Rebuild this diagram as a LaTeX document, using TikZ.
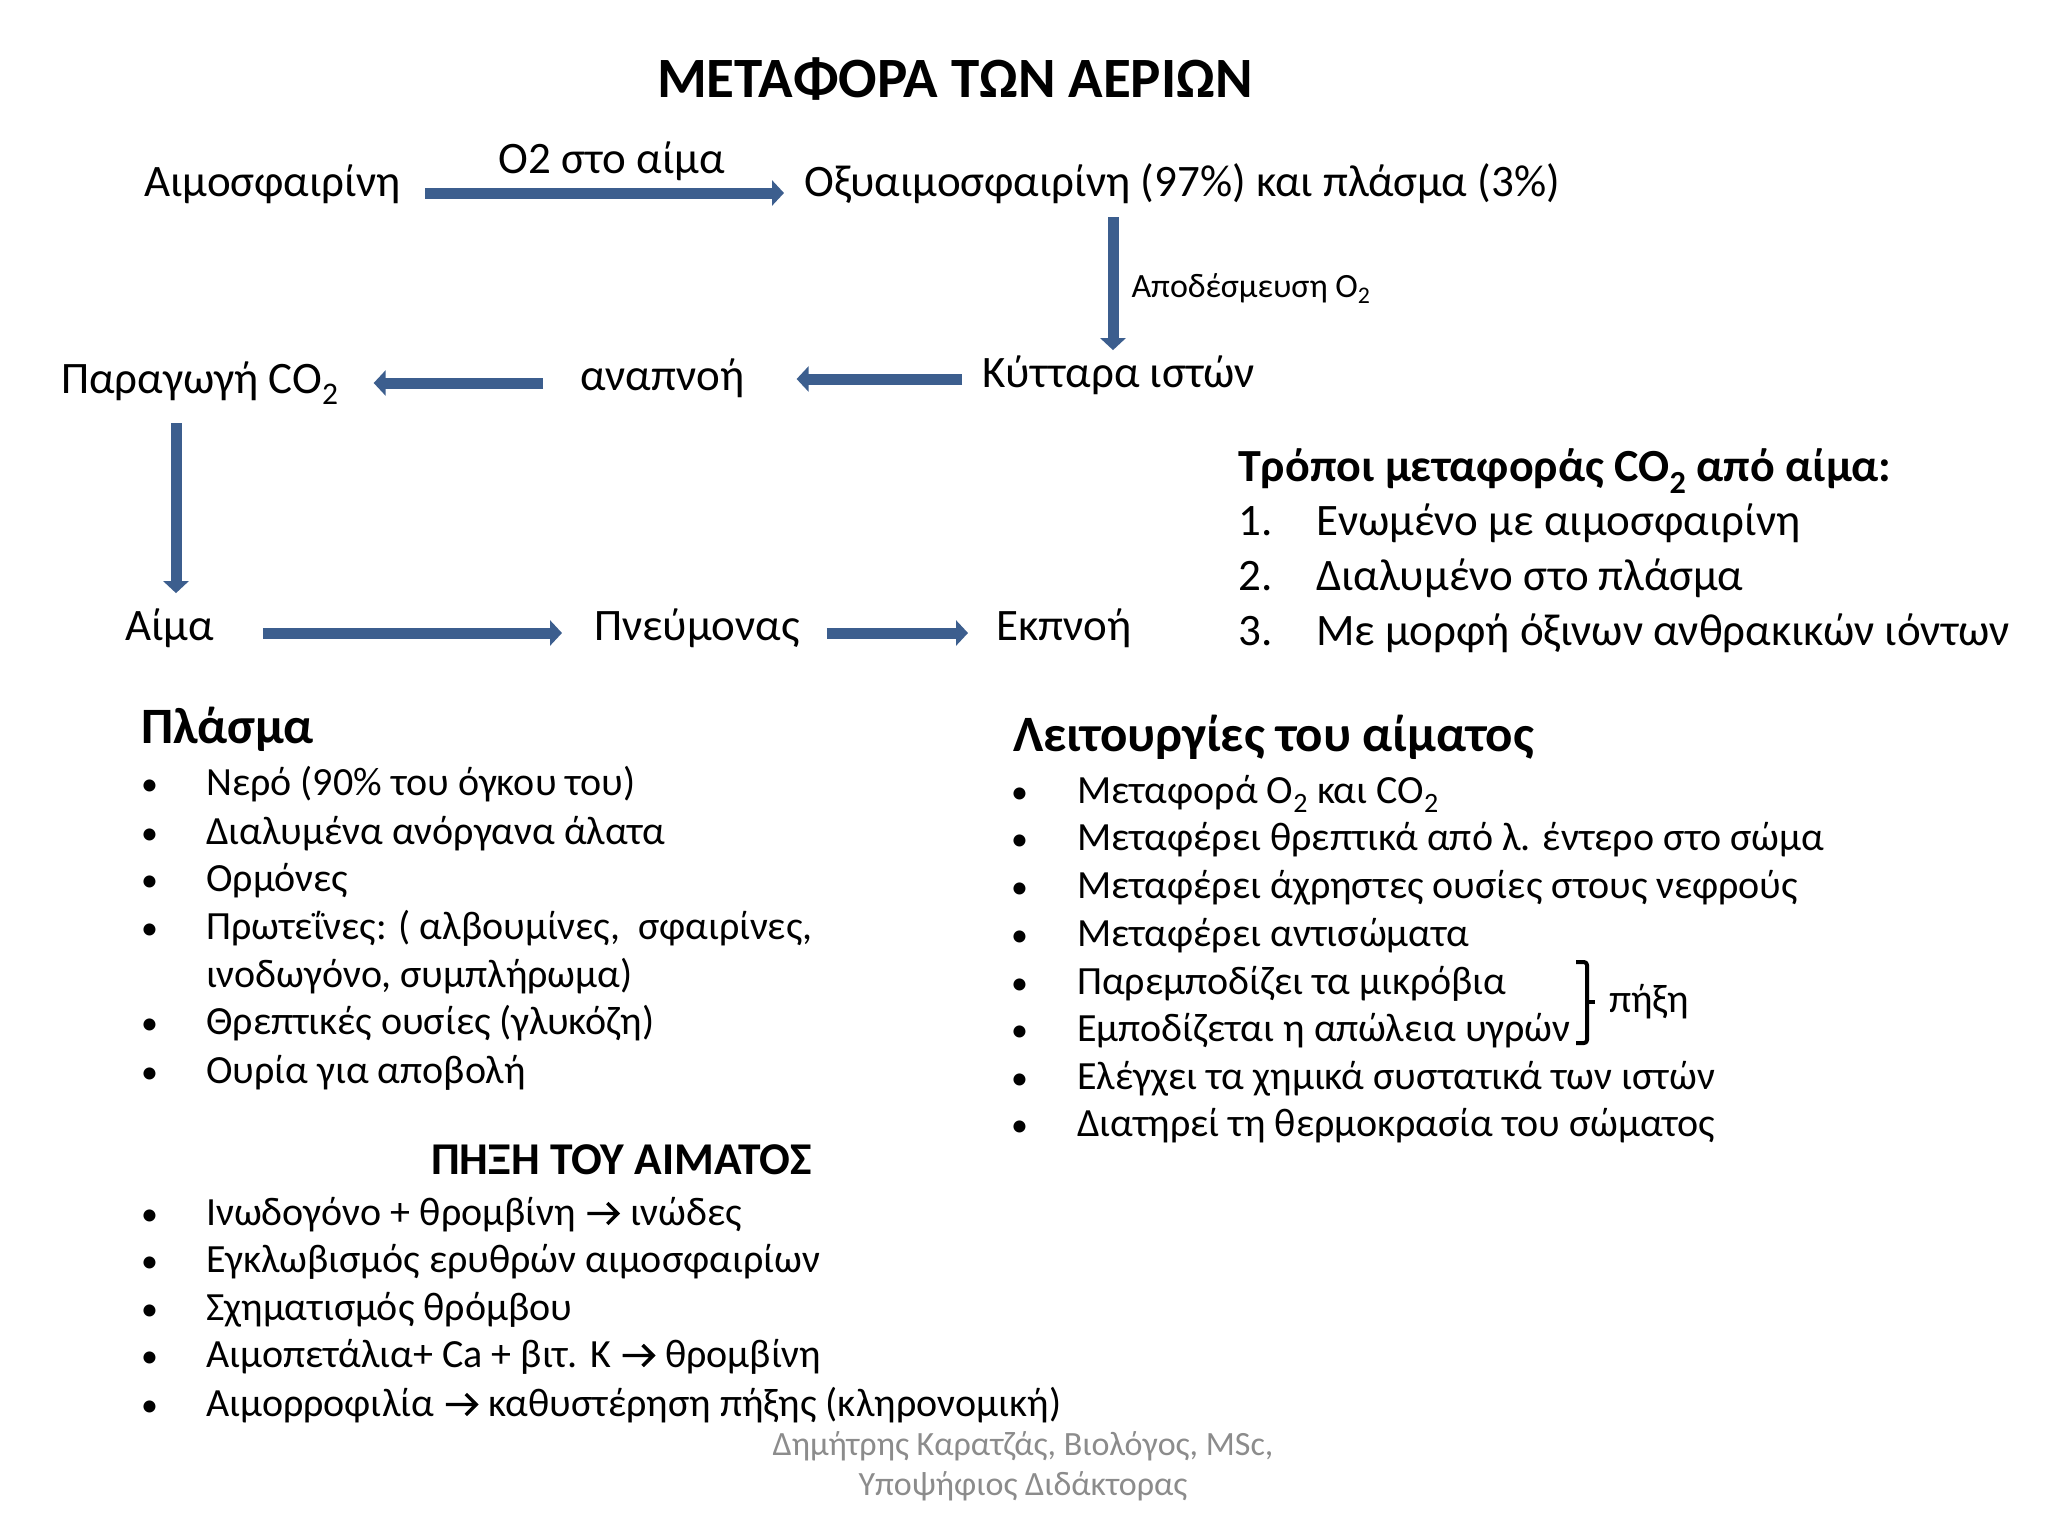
\documentclass[tikz,border=0pt]{standalone}
\usepackage{fontspec}
\setmainfont{Carlito}
\usetikzlibrary{arrows.meta,calc}
\definecolor{arrowblue}{HTML}{3C5E8E}
\definecolor{footgray}{HTML}{8C8C8C}
\tikzset{
  txt/.style={inner sep=0pt, anchor=base west},
  big/.style={txt, font=\fontsize{45}{54}\selectfont},
  mid/.style={txt, font=\fontsize{40}{48}\selectfont},
  bul/.style={txt, font=\fontsize{34}{40}\selectfont},
  head/.style={txt, font=\fontsize{51}{60}\selectfont\bfseries},
  barrow/.style={draw=arrowblue, line width=11pt, -{Triangle[width=25pt,length=12pt]}},
  foot/.style={inner sep=0pt, anchor=base, text=footgray, font=\fontsize{34}{40}\selectfont},
}
\newcommand{\arr}{\hspace{1pt}\tikz[baseline=0pt,x=1pt,y=1pt]{\draw[line width=3.4pt, line join=miter, line cap=butt] (0,11.5)--(31,11.5) (20,1)--(30.5,11.5)--(20,22);}\hspace{1pt}}
\begin{document}
\begin{tikzpicture}[x=1pt,y=-1pt]
\fill[white] (0,0) rectangle (2048,1536);
\useasboundingbox (0,0) rectangle (2048,1536);

% title
\node[inner sep=0pt, anchor=base, font=\fontsize{57}{66}\selectfont\bfseries] (title) at (955,98) {ΜΕΤΑΦΟΡΑ ΤΩΝ ΑΕΡΙΩΝ};

% top flow
\node[big] (hb) at (144,196) {Αιμοσφαιρίνη};
\node[big] (oxy) at (804,196) {Οξυαιμοσφαιρίνη (97\%) και πλάσμα (3\%)};
\node[big] (kyt) at (982,387) {Κύτταρα ιστών};
\node[big] (anap) at (580,390) {αναπνοή};
\node[big] (prod) at (61,393) {Παραγωγή CO\textsubscript{2}};
\node[big] (aima) at (125,640) {Αίμα};
\node[big] (pnev) at (594,640) {Πνεύμονας};
\node[big] (ekp) at (996,640) {Εκπνοή};

\draw[barrow] ([xshift=24pt,yshift=3pt]hb.base east) -- node[pos=0.52, anchor=base, yshift=20pt, font=\fontsize{45}{54}\selectfont, inner sep=0pt] (lab1) {O2 στο αίμα} ([xshift=-20pt,yshift=3pt]oxy.base west);

\draw[barrow] ([xshift=309pt,yshift=-14pt]oxy.south west) -- node[pos=0.6, anchor=base west, xshift=13pt, font=\fontsize{34}{40}\selectfont, inner sep=0pt] (lab2) {Αποδέσμευση O\textsubscript{2}} ([xshift=131pt,yshift=5pt]kyt.north west);

\draw[barrow] ([xshift=-20pt,yshift=8pt]kyt.base west) -- ([xshift=52pt,yshift=11pt]anap.base east);
\draw[barrow] ([xshift=-37pt,yshift=7pt]anap.base west) -- ([xshift=35pt,yshift=10pt]prod.base east);
\draw[barrow] ([xshift=115pt,yshift=-18pt]prod.south west) -- ([xshift=51pt,yshift=15pt]aima.north west);
\draw[barrow] ([xshift=49pt,yshift=7pt]aima.base east) -- ([xshift=-32pt,yshift=7pt]pnev.base west);
\draw[barrow] ([xshift=27pt,yshift=7pt]pnev.base east) -- ([xshift=-28pt,yshift=7pt]ekp.base west);

% CO2 transport
\node[txt, font=\fontsize{46}{54}\selectfont\bfseries] (troh) at (1238,481) {Τρόποι μεταφοράς CO\textsubscript{2} από αίμα:};
\node[big] (tn1) at (1238,535) {1.};
\node[big] (tt1) at (1316,535) {Ενωμένο με αιμοσφαιρίνη};
\node[big] (tn2) at (1238,590) {2.};
\node[big] (tt2) at (1316,590) {Διαλυμένο στο πλάσμα};
\node[big] (tn3) at (1238,645) {3.};
\node[big] (tt3) at (1316,645) {Με μορφή όξινων ανθρακικών ιόντων};

% plasma
\node[head] (plh) at (141,743) {Πλάσμα};
\node[bul] (pb1) at (141,795) {•};
\node[mid] (pt1) at (206,795) {Νερό (90\% του όγκου του)};
\node[bul] (pb2) at (141,844) {•};
\node[mid] (pt2) at (206,844) {Διαλυμένα ανόργανα άλατα};
\node[bul] (pb3) at (141,891) {•};
\node[mid] (pt3) at (206,891) {Ορμόνες};
\node[bul] (pb4) at (141,939) {•};
\node[mid] (pt4) at (206,939) {Πρωτεΐνες: ( αλβουμίνες,~ σφαιρίνες,};
\node[mid] (pt4b) at (206,987) {ινοδωγόνο, συμπλήρωμα)};
\node[bul] (pb5) at (141,1034) {•};
\node[mid] (pt5) at (206,1034) {Θρεπτικές ουσίες (γλυκόζη)};
\node[bul] (pb6) at (141,1083) {•};
\node[mid] (pt6) at (206,1083) {Ουρία για αποβολή};

% coagulation
\node[txt, font=\fontsize{45.5}{54}\selectfont\bfseries] (pxh) at (431,1174) {ΠΗΞΗ ΤΟΥ ΑΙΜΑΤΟΣ};
\node[bul] (cb1) at (141,1225) {•};
\node[mid] (ct1) at (206,1225) {Ινωδογόνο + θρομβίνη \arr{} ινώδες};
\node[bul] (cb2) at (141,1272) {•};
\node[mid] (ct2) at (206,1272) {Εγκλωβισμός ερυθρών αιμοσφαιρίων};
\node[bul] (cb3) at (141,1320) {•};
\node[mid] (ct3) at (206,1320) {Σχηματισμός θρόμβου};
\node[bul] (cb4) at (141,1367) {•};
\node[mid] (ct4) at (206,1367) {Αιμοπετάλια+ Ca + βιτ. K \arr{} θρομβίνη};
\node[bul] (cb5) at (141,1416) {•};
\node[mid] (ct5) at (206,1416) {Αιμορροφιλία \arr{} καθυστέρηση πήξης (κληρονομική)};

% functions of blood
\node[head] (fnh) at (1013,751) {Λειτουργίες του αίματος};
\node[bul] (fb1) at (1011,803) {•};
\node[mid] (ft1) at (1077,803) {Μεταφορά O\textsubscript{2} και CO\textsubscript{2}};
\node[bul] (fb2) at (1011,850) {•};
\node[mid] (ft2) at (1077,850) {Μεταφέρει θρεπτικά από λ. έντερο στο σώμα};
\node[bul] (fb3) at (1011,898) {•};
\node[mid] (ft3) at (1077,898) {Μεταφέρει άχρηστες ουσίες στους νεφρούς};
\node[bul] (fb4) at (1011,946) {•};
\node[mid] (ft4) at (1077,946) {Μεταφέρει αντισώματα};
\node[bul] (fb5) at (1011,994) {•};
\node[mid] (ft5) at (1077,994) {Παρεμποδίζει τα μικρόβια};
\node[bul] (fb6) at (1011,1041) {•};
\node[mid] (ft6) at (1077,1041) {Εμποδίζεται η απώλεια υγρών};
\node[bul] (fb7) at (1011,1089) {•};
\node[mid] (ft7) at (1077,1089) {Ελέγχει τα χημικά συστατικά των ιστών};
\node[bul] (fb8) at (1011,1136) {•};
\node[mid] (ft8) at (1077,1136) {Διατηρεί τη θερμοκρασία του σώματος};

% bracket
\draw[line width=4pt, line join=round, rounded corners=3pt] (1576,962) -- (1587,962) -- (1587,1043) -- (1576,1043);
\draw[line width=4pt] (1587,1002) -- (1595,1002);
\node[mid] (pixi) at (1609,1012) {πήξη};

% footer
\node[foot] (f1) at (1023,1455) {Δημήτρης Καρατζάς, Βιολόγος, MSc,};
\node[foot] (f2) at (1023,1495) {Υποψήφιος Διδάκτορας};
\end{tikzpicture}
\end{document}
